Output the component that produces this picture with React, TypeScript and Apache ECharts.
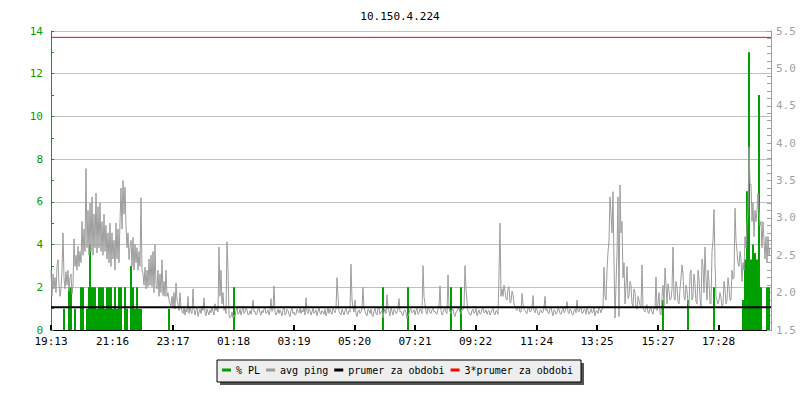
import React, { useEffect, useRef } from "react";
import * as echarts from "echarts";

const TITLE = "10.150.4.224";
const START = "19:13";
const X_LABELS = ["19:13", "21:16", "23:17", "01:18", "03:19", "05:20", "07:21", "09:22", "11:24", "13:25", "15:27", "17:28"];
const SPAN_MIN = 1440;
const STEP_MIN = 2;

// avg ping (right axis), one sample every 2 minutes
const PING = [
  2.30, 1.95, 2.25, 2.05, 2.20, 2.00, 2.35, 2.44, 2.10, 1.95, 2.05, 2.30, 2.80, 2.20, 2.05, 2.28, 2.10, 2.30, 2.02, 2.20,
  2.25, 1.98, 2.10, 2.72, 2.35, 2.50, 2.30, 2.62, 2.35, 2.55, 2.40, 2.95, 2.50, 2.85, 2.55, 3.66, 2.60, 3.10, 2.50, 3.20,
  2.55, 3.28, 2.50, 3.05, 2.60, 3.33, 2.53, 3.15, 2.60, 3.20, 2.55, 2.95, 2.50, 3.05, 2.55, 2.90, 2.45, 2.80, 2.40, 2.93,
  2.35, 2.80, 2.45, 2.70, 2.30, 2.93, 2.45, 2.85, 2.40, 2.95, 3.40, 2.85, 3.50, 3.05, 3.41, 2.90, 2.60, 2.80, 2.44, 2.60,
  2.70, 2.35, 2.74, 2.30, 2.65, 2.40, 2.60, 2.30, 2.55, 2.35, 3.27, 2.30, 2.25, 2.10, 2.34, 2.05, 2.30, 2.08, 2.45, 2.10,
  2.50, 2.08, 2.55, 2.00, 2.64, 2.10, 2.05, 2.30, 1.95, 2.25, 2.00, 2.44, 1.96, 2.15, 1.95, 2.30, 1.95, 2.00, 1.90, 1.85,
  1.82, 1.95, 1.80, 2.00, 1.78, 2.13, 1.90, 1.85, 1.76, 2.00, 1.80, 1.76, 1.72, 1.82, 1.70, 1.78, 1.74, 1.95, 1.72, 1.80,
  1.75, 1.72, 2.05, 1.78, 1.70, 1.76, 1.80, 1.68, 1.74, 1.78, 1.72, 1.82, 1.76, 1.93, 1.73, 1.69, 1.78, 1.74, 1.70, 1.77,
  1.73, 1.80, 1.75, 1.70, 1.85, 1.76, 1.80, 1.74, 2.61, 1.95, 2.30, 1.85, 2.00, 1.76, 1.80, 1.72, 2.68, 2.30, 1.70, 1.66,
  1.68, 1.74, 1.66, 1.70, 1.68, 1.76, 1.80, 1.71, 1.72, 1.78, 1.70, 1.76, 1.82, 1.72, 1.74, 1.79, 1.77, 1.70, 1.71, 1.76,
  1.71, 1.79, 1.90, 1.74, 1.75, 1.70, 1.72, 1.79, 1.80, 1.73, 1.70, 1.76, 1.73, 1.78, 1.80, 1.72, 1.74, 1.77, 1.70, 1.76,
  1.92, 1.75, 1.78, 2.09, 1.75, 1.70, 1.73, 1.78, 1.72, 1.77, 1.73, 1.69, 1.77, 1.81, 1.70, 1.72, 1.78, 1.76, 1.71, 1.68,
  1.76, 1.79, 1.72, 1.74, 1.70, 1.71, 1.78, 1.75, 1.73, 1.80, 1.72, 1.77, 1.74, 1.80, 1.70, 1.93, 1.75, 1.72, 1.78, 1.76,
  1.70, 1.74, 1.79, 1.72, 1.74, 1.77, 1.69, 1.75, 1.80, 1.73, 1.71, 1.76, 1.74, 1.71, 1.78, 1.69, 1.74, 1.80, 1.72, 1.78,
  1.74, 1.71, 1.80, 1.76, 1.73, 1.78, 2.20, 1.95, 1.75, 1.72, 1.70, 1.78, 1.74, 1.70, 1.76, 1.79, 1.73, 1.71, 1.76, 1.74,
  2.38, 1.90, 1.80, 1.74, 1.90, 1.72, 1.68, 1.75, 1.77, 1.72, 1.74, 1.79, 2.07, 1.80, 1.75, 1.71, 1.69, 1.78, 1.76, 1.72,
  1.78, 1.70, 1.68, 1.75, 1.79, 1.72, 1.70, 1.79, 1.80, 1.71, 1.74, 1.76, 1.66, 1.74, 1.78, 1.72, 1.97, 1.80, 1.74, 1.69,
  1.80, 1.75, 1.70, 1.78, 1.76, 1.72, 1.73, 1.80, 1.92, 1.74, 1.75, 1.71, 1.69, 1.76, 1.77, 1.73, 1.65, 1.70, 1.72, 1.78,
  1.78, 1.73, 1.74, 1.77, 1.70, 1.76, 1.79, 1.71, 1.73, 1.78, 1.76, 1.72, 2.36, 1.95, 1.85, 1.74, 1.71, 1.80, 1.78, 1.73,
  1.72, 1.77, 1.80, 1.74, 1.75, 1.72, 1.71, 1.78, 1.82, 2.09, 1.76, 1.70, 1.73, 1.78, 1.79, 1.74, 1.72, 2.24, 1.80, 1.74,
  1.72, 1.77, 1.78, 1.71, 1.68, 1.74, 1.75, 1.79, 1.80, 1.73, 1.72, 1.78, 1.77, 1.80, 2.36, 2.04, 1.88, 1.75, 1.73, 1.70,
  1.70, 1.76, 1.78, 1.72, 1.74, 1.79, 1.69, 1.73, 1.77, 1.71, 1.72, 1.78, 1.80, 1.73, 1.74, 1.77, 1.71, 1.75, 1.76, 1.70,
  1.73, 1.77, 1.79, 1.72, 1.70, 1.76, 1.75, 1.71, 2.25, 2.93, 1.95, 2.05, 1.95, 2.10, 2.02, 1.92, 1.90, 2.05, 2.08, 1.86,
  1.88, 2.02, 1.98, 1.85, 1.82, 1.78, 1.76, 1.82, 1.80, 1.74, 1.74, 1.99, 1.85, 1.78, 1.76, 1.73, 1.72, 1.79, 1.80, 1.74,
  1.75, 1.80, 1.96, 1.76, 1.73, 1.79, 1.77, 1.72, 1.70, 1.76, 1.77, 1.73, 1.74, 1.80, 1.95, 1.76, 1.78, 1.73, 1.72, 1.79,
  1.80, 1.74, 1.69, 1.77, 1.76, 1.71, 1.73, 1.79, 1.78, 1.72, 1.71, 1.76, 1.82, 1.73, 1.75, 1.80, 1.88, 1.74, 1.72, 1.78,
  1.77, 1.71, 1.70, 1.76, 1.78, 1.73, 1.90, 1.75, 1.74, 1.79, 1.80, 1.72, 1.73, 1.78, 1.77, 1.71, 1.82, 1.76, 1.71, 1.74,
  1.78, 1.73, 1.74, 1.80, 1.69, 1.75, 1.76, 1.72, 1.80, 1.77, 1.73, 1.78, 1.79, 2.34, 1.95, 1.90, 2.30, 2.54, 2.70, 3.28,
  3.05, 2.80, 3.35, 2.40, 1.66, 2.10, 2.54, 3.28, 1.68, 3.44, 2.80, 2.95, 2.20, 2.40, 1.85, 2.10, 2.35, 1.92, 1.95, 2.15,
  2.10, 1.85, 1.82, 2.05, 2.00, 1.80, 1.78, 1.95, 1.90, 1.83, 1.80, 2.37, 1.80, 1.76, 1.74, 1.82, 1.84, 1.73, 1.72, 1.79,
  1.79, 1.74, 1.71, 1.80, 1.78, 2.21, 1.76, 1.85, 2.00, 1.72, 1.70, 1.95, 2.10, 1.82, 2.33, 2.10, 1.85, 2.12, 2.02, 1.90,
  1.92, 2.05, 2.61, 1.95, 1.90, 2.15, 2.08, 1.88, 1.85, 2.05, 2.20, 2.37, 2.25, 1.95, 1.90, 2.10, 2.03, 1.86, 1.82, 2.25,
  2.30, 1.90, 1.95, 2.25, 2.12, 1.88, 1.85, 2.30, 2.18, 1.92, 1.80, 2.45, 2.35, 2.00, 2.61, 2.20, 1.90, 2.30, 2.15, 1.85,
  1.85, 2.55, 2.70, 3.11, 2.40, 1.95, 1.90, 1.85, 1.90, 2.00, 1.93, 1.82, 1.85, 2.15, 2.05, 1.85, 1.90, 2.20, 2.08, 1.90,
  1.90, 2.30, 2.18, 2.20, 3.13, 2.70, 2.55, 2.40, 2.35, 2.55, 2.45, 2.15, 2.40, 2.30, 2.75, 2.60, 2.90, 3.10, 3.95, 3.45,
  3.45, 2.95, 3.20, 2.75, 3.10, 2.95, 3.10, 3.33, 3.10, 2.90, 2.95, 2.60, 2.95, 2.70, 2.45, 2.75, 2.40, 2.75, 2.50, 2.60,
];

// % packet loss (left axis): minute offset and value
const PL_MIN = [
  26, 36, 40, 48, 60, 64, 72, 76, 78, 80, 84, 88, 92, 96, 100, 104, 108, 112, 116, 120,
  124, 128, 132, 136, 140, 148, 152, 160, 164, 168, 172, 176, 180, 236, 366, 664, 714, 800, 820,
  1224, 1274, 1326, 1384, 1388, 1392, 1396, 1400, 1404, 1408, 1412, 1416, 1420, 1432, 1436,
];
const PL_VAL = [
  1, 2, 2, 1, 2, 2, 1, 2, 4, 2, 2, 2, 1, 2, 2, 2, 1, 2, 2, 2,
  1, 2, 1, 2, 2, 2, 1, 3, 2, 1, 2, 1, 1, 1, 2, 2, 2, 2, 2,
  1.4, 1.4, 2, 1.4, 3.3, 6.5, 13, 3.3, 4, 3.6, 3.3, 11, 2, 2, 2,
];

const AVG_PING = 1.805;

const LEFT_TICKS = { min: 0, max: 14, interval: 2 };
const RIGHT_TICKS = { min: 1.5, max: 5.5, interval: 0.5 };

const MONO = "DejaVu Sans Mono";
const GREEN = "#00a000";
const GRAY = "#9c9c9c";

function toMin(s: string): number {
  const [h, m] = s.split(":").map(Number);
  const [h0, m0] = START.split(":").map(Number);
  let v = h * 60 + m - (h0 * 60 + m0);
  if (v < 0) v += 1440;
  return v;
}

export default function App() {
  const ref = useRef<HTMLDivElement>(null);
  useEffect(() => {
    if (!ref.current) return;
    const chart = echarts.init(ref.current, null, { renderer: "svg" });
    const tickVals = X_LABELS.map(toMin);
    const option: any = {
      animation: false,
      backgroundColor: "#ffffff",
      title: {
        text: TITLE,
        left: "center",
        top: 6,
        textStyle: { fontFamily: MONO, fontSize: 11, fontWeight: "normal", color: "#000" },
      },
      graphic: [
        { type: "rect", shape: { x: 220, y: 363, width: 364, height: 22 }, style: { fill: "#555555" }, z: 0 },
        { type: "rect", shape: { x: 217, y: 360, width: 364, height: 22 }, style: { fill: "#eeeeee", stroke: "#000", lineWidth: 1 }, z: 1 },
      ],
      legend: {
        left: 222,
        top: 365,
        padding: 0,
        itemWidth: 9,
        itemHeight: 3,
        itemGap: 6,
        z: 10,
        textStyle: { fontFamily: MONO, fontSize: 10, color: "#000" },
        data: [
          { name: "% PL", icon: "rect" },
          { name: "avg ping", icon: "rect" },
          { name: "prumer za obdobi", icon: "rect" },
          { name: "3*prumer za obdobi", icon: "rect" },
        ],
      },
      grid: { left: 51, right: 29, top: 31, bottom: 70 },
      xAxis: {
        type: "value",
        min: 0,
        max: SPAN_MIN,
        axisLine: { lineStyle: { color: "#000", width: 1 } },
        axisTick: { show: true, inside: true, length: 5, customValues: tickVals, lineStyle: { color: "#000", width: 2 } },
        axisLabel: {
          customValues: tickVals,
          margin: 6,
          fontFamily: MONO,
          fontSize: 11,
          color: "#000",
          formatter: (v: number) => {
            const idx = tickVals.indexOf(Math.round(v));
            return idx >= 0 ? X_LABELS[idx] : "";
          },
        },
        splitLine: { show: false },
      },
      yAxis: [
        {
          type: "value",
          position: "left",
          min: LEFT_TICKS.min,
          max: LEFT_TICKS.max,
          interval: LEFT_TICKS.interval,
          axisLine: { show: true, lineStyle: { color: GREEN, width: 1 } },
          axisTick: { show: true, inside: true, length: 3, lineStyle: { color: GREEN } },
          minorTick: { show: true, splitNumber: 2, length: 3, lineStyle: { color: GREEN } },
          axisLabel: { margin: 8, fontFamily: MONO, fontSize: 11, color: GREEN },
          splitLine: { show: true, lineStyle: { color: "#c0c0c0", width: 1 } },
        },
        {
          type: "value",
          position: "right",
          min: RIGHT_TICKS.min,
          max: RIGHT_TICKS.max,
          interval: RIGHT_TICKS.interval,
          axisLine: { show: true, lineStyle: { color: "#a0a0a0", width: 1 } },
          axisTick: { show: true, inside: true, length: 4, lineStyle: { color: "#a0a0a0" } },
          minorTick: { show: true, splitNumber: 5, length: 4, lineStyle: { color: "#a0a0a0" } },
          axisLabel: {
            margin: 5,
            fontFamily: MONO,
            fontSize: 11,
            color: "#a0a0a0",
            formatter: (v: number) => v.toFixed(1),
          },
          splitLine: { show: false },
        },
      ],
      series: [
        {
          name: "% PL",
          type: "bar",
          yAxisIndex: 0,
          barWidth: 2,
          itemStyle: { color: GREEN },
          z: 1,
          data: PL_MIN.map((t, i) => [t, PL_VAL[i]]),
        },
        {
          name: "avg ping",
          type: "line",
          yAxisIndex: 1,
          symbol: "none",
          lineStyle: { color: GRAY, width: 1 },
          itemStyle: { color: GRAY },
          z: 2,
          data: PING.map((v, i) => [i * STEP_MIN, v]),
        },
        {
          name: "prumer za obdobi",
          type: "line",
          yAxisIndex: 1,
          symbol: "none",
          lineStyle: { color: "#000", width: 2 },
          itemStyle: { color: "#000" },
          z: 3,
          data: [[0, AVG_PING], [SPAN_MIN, AVG_PING]],
        },
        {
          name: "3*prumer za obdobi",
          type: "line",
          yAxisIndex: 1,
          symbol: "none",
          lineStyle: { color: "#ff0000", width: 1 },
          itemStyle: { color: "#ff0000" },
          z: 4,
          data: [[0, 3 * AVG_PING], [SPAN_MIN, 3 * AVG_PING]],
        },
      ],
    };
    chart.setOption(option);
    return () => chart.dispose();
  }, []);
  return (
    <div
      ref={ref}
      style={{ position: "absolute", left: 0, top: 0, width: 800, height: 400, background: "#fff" }}
    />
  );
}
